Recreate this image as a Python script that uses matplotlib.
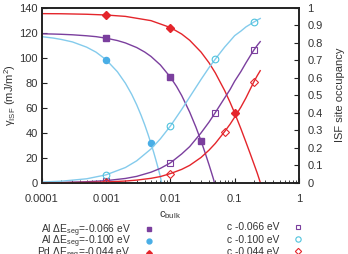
import numpy as np
import matplotlib
matplotlib.use("Agg")
import matplotlib.pyplot as plt
from matplotlib.ticker import FixedLocator, FuncFormatter, LogLocator, NullFormatter

plt.rcParams['font.family'] = ['Liberation Sans', 'DejaVu Sans']
plt.rcParams['mathtext.fontset'] = 'custom'
plt.rcParams['mathtext.rm'] = 'Liberation Sans'
plt.rcParams['mathtext.it'] = 'Liberation Sans:italic'
plt.rcParams['mathtext.bf'] = 'Liberation Sans:bold'
plt.rcParams['font.size'] = 8

# curves (x = c_bulk)
x_al066 = [1e-4, 1.5e-4, 2e-4, 3e-4, 5e-4, 7e-4, 1e-3, 1.5e-3, 2e-3, 3e-3, 4e-3, 5e-3, 7e-3, 0.01,
           0.0125, 0.015, 0.02, 0.025, 0.03, 0.035, 0.04, 0.044, 0.047, 0.0485]
g_al066 = [119.1, 118.9, 118.7, 118.3, 117.5, 116.8, 115.6, 113.7, 111.8, 108.1, 104.5, 101.0, 94.2, 84.5,
           77.0, 69.8, 56.5, 44.5, 33.6, 23.5, 14.4, 7.6, 2.8, 0.0]
x_al100 = [1e-4, 1.5e-4, 2e-4, 3e-4, 5e-4, 7e-4, 1e-3, 1.5e-3, 2e-3, 2.5e-3, 3e-3, 3.5e-3, 4e-3, 4.5e-3,
           5e-3, 5.5e-3, 6e-3, 6.5e-3, 7e-3, 7.3e-3]
g_al100 = [116.8, 115.7, 114.6, 112.6, 108.4, 104.4, 98.4, 88.8, 79.6, 70.8, 62.3, 54.1, 46.3, 38.7,
           31.5, 24.5, 17.7, 11.2, 4.9, 0.0]
x_pd044 = [1e-4, 2e-4, 5e-4, 1e-3, 2e-3, 5e-3, 0.01, 0.015, 0.02, 0.03, 0.04, 0.05, 0.07, 0.085, 0.1,
           0.125, 0.15, 0.175, 0.2, 0.225, 0.25]
g_pd044 = [135.2, 135.1, 134.7, 134.1, 133.0, 129.6, 124.1, 118.9, 113.9, 104.5, 95.9, 87.9, 73.7, 64.3, 55.8,
           43.3, 32.5, 23.2, 15.0, 7.7, 0.5]

x_occ = [1e-4, 2e-4, 5e-4, 1e-3, 2e-3, 3e-3, 5e-3, 7e-3, 0.01, 0.015, 0.02, 0.03, 0.04, 0.05, 0.07,
         0.085, 0.1, 0.125, 0.15, 0.175, 0.2, 0.225, 0.25]
occ_066 = [0.0013, 0.0026, 0.0064, 0.0127, 0.0252, 0.0372, 0.061, 0.0828, 0.114, 0.165, 0.207, 0.285, 0.347,
           0.401, 0.485, 0.533, 0.58, 0.635, 0.685, 0.725, 0.759, 0.785, 0.806]
occ_100 = [0.0048, 0.0095, 0.0234, 0.0458, 0.0876, 0.126, 0.1935, 0.2515, 0.324, 0.419, 0.49, 0.59, 0.658,
           0.706, 0.775, 0.81, 0.84, 0.866, 0.89, 0.905, 0.918, 0.929, 0.938]
occ_044 = [0.0005, 0.001, 0.0026, 0.0052, 0.0105, 0.0158, 0.026, 0.036, 0.053, 0.077, 0.10, 0.145, 0.187,
           0.225, 0.293, 0.335, 0.375, 0.432, 0.485, 0.535, 0.578, 0.612, 0.64]

# data points (markers)
px_al066 = [0.001, 0.01, 0.03]
py_al066 = [115.6, 84.5, 33.6]
px_al100 = [0.001, 0.005]
py_al100 = [98.4, 31.5]
px_pd044 = [0.001, 0.01, 0.1]
py_pd044 = [134.1, 124.1, 55.8]

pox_066 = [0.001, 0.01, 0.05, 0.2]
poy_066 = [0.0127, 0.114, 0.401, 0.759]
pox_100 = [0.001, 0.01, 0.05, 0.2]
poy_100 = [0.0458, 0.324, 0.706, 0.918]
pox_044 = [0.001, 0.01, 0.07, 0.2]
poy_044 = [0.0052, 0.053, 0.293, 0.578]

purple = '#7b3f9e'
blue = '#49aee6'
lblue = '#84cbec'
cyan = '#4fc3dd'
red = '#e4252b'

fig = plt.figure(figsize=(3.48, 2.54), dpi=100)
ax = fig.add_axes([0.12, 0.28, 0.739, 0.69])
ax2 = ax.twinx()

ax.plot(x_al066, g_al066, color=purple, lw=1.0)
ax.plot(x_al100, g_al100, color=lblue, lw=1.0)
ax.plot(x_pd044, g_pd044, color=red, lw=1.0)
h1, = ax.plot(px_al066, py_al066, ls='none', marker='s', ms=4.2, color=purple)
h2, = ax.plot(px_al100, py_al100, ls='none', marker='o', ms=4.4, color=blue)
h3, = ax.plot(px_pd044, py_pd044, ls='none', marker='D', ms=3.6, color=red)

ax2.plot(x_occ, occ_066, color=purple, lw=1.0)
ax2.plot(x_occ, occ_100, color=lblue, lw=1.0)
ax2.plot(x_occ, occ_044, color=red, lw=1.0)
h4, = ax2.plot(pox_066, poy_066, ls='none', marker='s', ms=4.4, mfc='none', mew=0.8, color=purple)
h5, = ax2.plot(pox_100, poy_100, ls='none', marker='o', ms=4.8, mfc='none', mew=0.8, color=cyan)
h6, = ax2.plot(pox_044, poy_044, ls='none', marker='D', ms=4.0, mfc='none', mew=0.8, color=red)

ax.set_xscale('log')
ax.set_xlim(1e-4, 1)
ax.set_ylim(0, 140)
ax2.set_ylim(0, 1)
ax.set_yticks(range(0, 141, 20))
ax2.set_yticks(np.arange(0, 1.01, 0.1))
ax2.yaxis.set_major_formatter(FuncFormatter(lambda v, p: '%g' % round(v, 1)))
xtick_vals = [1e-4, 1e-3, 1e-2, 1e-1, 1]
xtick_labels = ['0.0001', '0.001', '0.01', '0.1', '1']
ax.xaxis.set_major_locator(FixedLocator(xtick_vals))
ax.set_xticklabels(xtick_labels)
ax.xaxis.set_minor_locator(LogLocator(base=10, subs=np.arange(2, 10)))
ax.xaxis.set_minor_formatter(NullFormatter())

for a in (ax, ax2):
    a.tick_params(which='major', direction='in', length=3.5, width=0.8, colors='#222222', labelcolor='#333333', labelsize=8)
    a.tick_params(which='minor', direction='in', length=2, width=0.6, colors='#222222')
    for s in a.spines.values():
        s.set_linewidth(1.2)
        s.set_color('#222222')
ax.tick_params(axis='x', pad=8)
ax.tick_params(axis='y', pad=3)
ax2.tick_params(axis='y', pad=6)

ax.set_xlabel(r'c$_{\rm bulk}$', fontsize=8, color='#333333', labelpad=4)
ax.set_ylabel(r'γ$_{\rm ISF}$ (mJ/m$^{2}$)', fontsize=8, color='#333333', labelpad=1)
ax2.set_ylabel('ISF site occupancy', fontsize=8, color='#333333', rotation=90, labelpad=9)

leg1 = fig.legend([h1, h2, h3],
                  [r'Al $\Delta$E$_{\rm seg}$=-0.066 eV', r'Al $\Delta$E$_{\rm seg}$=-0.100 eV',
                   r'Pd $\Delta$E$_{\rm seg}$=-0.044 eV'],
                  loc='upper right', bbox_to_anchor=(0.458, 0.145), markerfirst=False, frameon=False,
                  handlelength=1.0, handletextpad=1.3, labelspacing=-0.45, fontsize=7.4, borderpad=0,
                  markerscale=0.8)
leg2 = fig.legend([h4, h5, h6], ['c -0.066 eV', 'c -0.100 eV', 'c -0.044 eV'],
                  loc='upper right', bbox_to_anchor=(0.885, 0.145), markerfirst=False, frameon=False,
                  handlelength=1.0, handletextpad=1.3, labelspacing=0.22, fontsize=7.4, borderpad=0,
                  markerscale=0.8)
for lg in (leg1, leg2):
    for t in lg.get_texts():
        t.set_color('#333333')

fig.savefig('out.png', dpi=100)
